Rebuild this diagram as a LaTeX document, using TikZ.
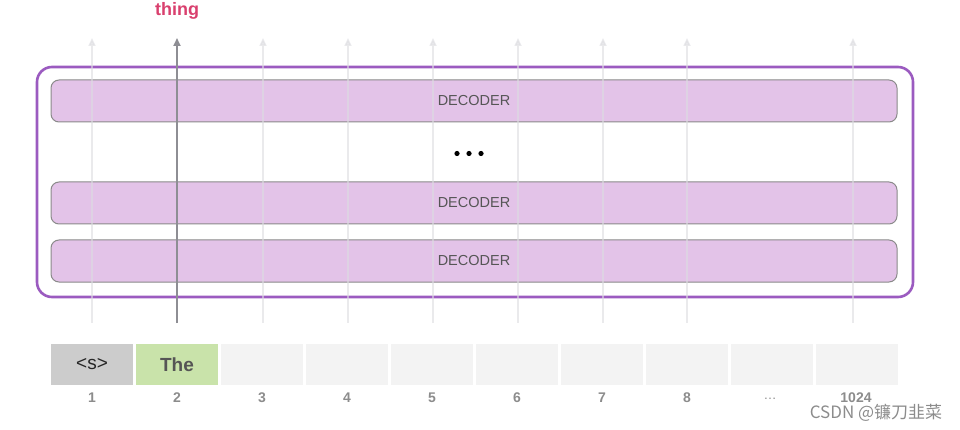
\documentclass[tikz,border=0pt]{standalone}
\usepackage{fontspec}
\setmainfont{Liberation Sans}
\newfontfamily\cjkfont{Noto Sans CJK SC}
\usetikzlibrary{arrows.meta}
\definecolor{outerpurple}{HTML}{9B5BC0}
\definecolor{decfill}{HTML}{E3C3E8}
\definecolor{decdraw}{HTML}{8A8A8A}
\definecolor{lightarrow}{HTML}{DCDCE0}
\definecolor{darkarrow}{HTML}{8E8E94}
\definecolor{thingred}{HTML}{D9406E}
\definecolor{cellgray}{HTML}{CCCCCC}
\definecolor{cellgreen}{HTML}{C9E3AA}
\definecolor{cellempty}{HTML}{F3F3F3}
\definecolor{numgray}{HTML}{8C8C8C}
\definecolor{textdark}{HTML}{555555}
\tikzset{
  decbox/.style={draw=decdraw, line width=1pt, fill=decfill, rounded corners=8pt,
    minimum width=846pt, minimum height=42pt, inner sep=0pt,
    font=\fontsize{14.5}{14.5}\selectfont, text=textdark},
  cellbox/.style={minimum width=82pt, minimum height=41pt, inner sep=0pt},
  numlabel/.style={font=\fontsize{14}{14}\selectfont\bfseries, text=numgray},
  lightarr/.style={draw=lightarrow, line width=1.6pt, opacity=0.6,
    -{Triangle[length=8pt,width=7pt]}},
  darkarr/.style={draw=darkarrow, line width=1.8pt,
    -{Triangle[length=8pt,width=7pt]}},
}
\begin{document}
\begin{tikzpicture}[x=1pt,y=-1pt]
\useasboundingbox (0,0) rectangle (960,430);
% outer frame
\node[draw=outerpurple, line width=2.6pt, rounded corners=15pt,
  minimum width=876pt, minimum height=230pt, inner sep=0pt] (frame) at (475,182) {};
% decoders
\node[decbox] (dec3) at (474,101) {DECODER};
\node[decbox] (dec2) at (474,203) {DECODER};
\node[decbox] (dec1) at (474,261) {DECODER};
% dots
\node[inner sep=0pt, minimum size=0pt] (dots) at (469,153) {};
\fill (457,153.5) circle (2.6);
\fill (469,153.5) circle (2.6);
\fill (481,153.5) circle (2.6);
% token cells
\node[cellbox, fill=cellgray, font=\fontsize{19}{19}\selectfont, text=black!85] (c1) at (92,364.5) {<s>};
\node[cellbox, fill=cellgreen, font=\fontsize{19}{19}\selectfont\bfseries, text=textdark] (c2) at (177,364.5) {The};
\foreach \i/\x in {3/262,4/347,5/432,6/517,7/602,8/687,9/772,10/856.5}
  \node[cellbox, fill=cellempty] (c\i) at (\x,364.5) {};
% numbers
\foreach \i/\x/\t in {1/92/1,2/177/2,3/262/3,4/347/4,5/432/5,6/517/6,7/602/7,8/687/8,10/856/1024}
  \node[numlabel] (n\i) at (\x,397.5) {\t};
\node[numlabel, font=\fontsize{13}{13}\selectfont] (n9) at (770,399) {…};
% arrows
\foreach \i/\x in {1/92,3/263,4/348,5/433,6/518,7/603,8/687,10/853}{
  \coordinate (b\i) at (\x,323);
  \coordinate (t\i) at (\x,38);
  \draw[lightarr] (b\i) -- (t\i);
}
\coordinate (b2) at (177,323);
\coordinate (t2) at (177,38);
\draw[darkarr] (b2) -- (t2);
% output word
\node[font=\fontsize{18}{18}\selectfont\bfseries, text=thingred] (thing) at (177,11) {thing};
% watermark
\node[font=\cjkfont\fontsize{17}{17}\selectfont, text=black!45] (wm) at (876,413) {CSDN @镰刀韭菜};
\end{tikzpicture}
\end{document}
